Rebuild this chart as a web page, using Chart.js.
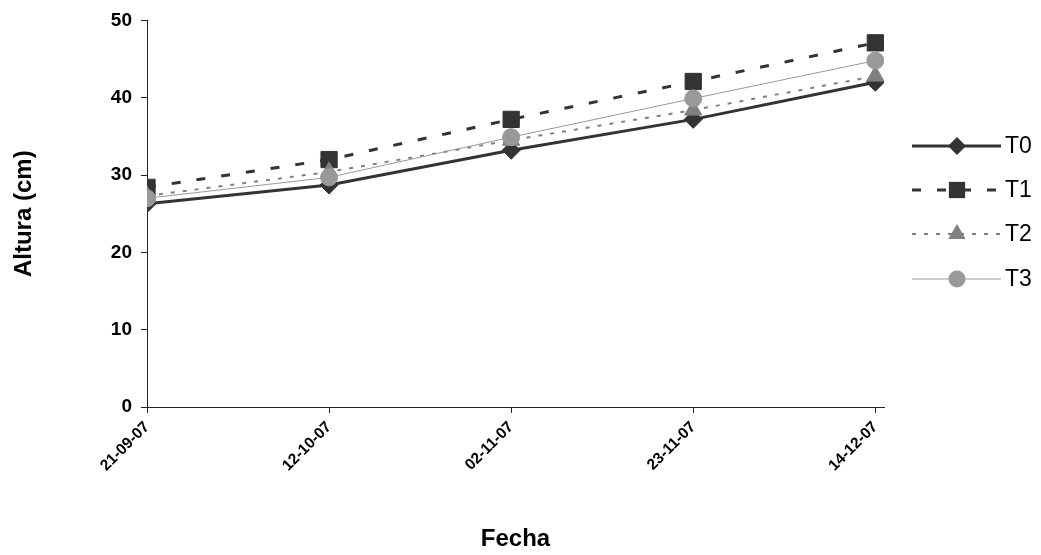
<!DOCTYPE html>
<html>
<head>
<meta charset="utf-8">
<title>Altura por fecha</title>
<script src="https://cdn.jsdelivr.net/npm/chart.js@4.4.0/dist/chart.umd.min.js"></script>
<style>
  html, body { margin: 0; padding: 0; background: #ffffff; }
  #wrap { width: 1041px; height: 555px; }
</style>
</head>
<body>
<div id="wrap"><canvas id="chart" width="1041" height="555"></canvas></div>
<script>
// Data
const fechas = ['21-09-07', '12-10-07', '02-11-07', '23-11-07', '14-12-07'];
const t0 = [26.3, 28.7, 33.2, 37.2, 42.0];
const t1 = [28.4, 32.0, 37.2, 42.1, 47.1];
const t2 = [27.3, 30.4, 34.5, 38.4, 42.8];
const t3 = [27.0, 29.7, 34.9, 39.9, 44.8];
const yTicks = [0, 10, 20, 30, 40, 50];

// Days since first sample (the x axis is a date axis)
function toDays(label) {
  const [d, m, y] = label.split('-').map(Number);
  return Date.UTC(2000 + y, m - 1, d) / 86400000;
}
const day0 = toDays(fechas[0]);
const dias = fechas.map((f) => toDays(f) - day0);

const pts = (vals) => vals.map((v, i) => ({ x: dias[i], y: v }));

const FONT = "'Liberation Sans', Arial, sans-serif";
const AXIS = '#222222';

// Draws a marker shape at (x, y) for the custom legend
function drawMarker(ctx, style, r, x, y, color) {
  ctx.save();
  ctx.fillStyle = color;
  ctx.setLineDash([]);
  ctx.beginPath();
  if (style === 'rectRot') {
    ctx.moveTo(x, y - r); ctx.lineTo(x + r, y); ctx.lineTo(x, y + r); ctx.lineTo(x - r, y);
  } else if (style === 'rect') {
    const s = Math.SQRT1_2 * r;
    ctx.rect(x - s, y - s, 2 * s, 2 * s);
  } else if (style === 'triangle') {
    for (let k = 0; k < 3; k++) {
      const a = k * 2 * Math.PI / 3;
      const px = x + Math.sin(a) * r, py = y - Math.cos(a) * r;
      if (k === 0) ctx.moveTo(px, py); else ctx.lineTo(px, py);
    }
  } else {
    ctx.arc(x, y, r, 0, Math.PI * 2);
  }
  ctx.closePath();
  ctx.fill();
  ctx.restore();
}

const sideLegend = {
  id: 'sideLegend',
  afterDraw(chart) {
    const ctx = chart.ctx;
    const x1 = 912, x2 = 1001, xm = 957;
    const rows = [146, 190, 234, 279];
    chart.data.datasets.forEach((ds, i) => {
      const y = rows[i];
      ctx.save();
      ctx.strokeStyle = ds.borderColor;
      ctx.lineWidth = ds.borderWidth;
      ctx.setLineDash(ds.borderDash || []);
      ctx.beginPath();
      ctx.moveTo(x1, y);
      ctx.lineTo(x2, y);
      ctx.stroke();
      ctx.restore();
      drawMarker(ctx, ds.pointStyle, ds.pointRadius, xm, y, ds.pointBackgroundColor);
      ctx.save();
      ctx.fillStyle = '#000';
      ctx.font = '23px ' + FONT;
      ctx.textBaseline = 'middle';
      ctx.fillText(ds.label, 1005, y + 1);
      ctx.restore();
    });
  }
};

new Chart(document.getElementById('chart'), {
  type: 'line',
  data: {
    datasets: [
      {
        label: 'T0', data: pts(t0), order: 3,
        borderColor: '#333333', borderWidth: 3,
        pointStyle: 'rectRot', pointRadius: 9,
        pointBackgroundColor: '#333333', pointBorderColor: '#333333', pointBorderWidth: 1
      },
      {
        label: 'T1', data: pts(t1), order: 2,
        borderColor: '#333333', borderWidth: 3, borderDash: [9, 16],
        pointStyle: 'rect', pointRadius: 11.5,
        pointBackgroundColor: '#333333', pointBorderColor: '#333333', pointBorderWidth: 1
      },
      {
        label: 'T2', data: pts(t2), order: 1,
        borderColor: '#808080', borderWidth: 2, borderDash: [4, 8],
        pointStyle: 'triangle', pointRadius: 10,
        pointBackgroundColor: '#808080', pointBorderColor: '#808080', pointBorderWidth: 1
      },
      {
        label: 'T3', data: pts(t3), order: 0,
        borderColor: '#999999', borderWidth: 1,
        pointStyle: 'circle', pointRadius: 8.5,
        pointBackgroundColor: '#999999', pointBorderColor: '#999999', pointBorderWidth: 1
      }
    ]
  },
  options: {
    responsive: false,
    animation: false,
    devicePixelRatio: 1,
    layout: { padding: { left: 10, top: 20, right: 157, bottom: 0 } },
    plugins: {
      legend: { display: false },
      tooltip: { enabled: false }
    },
    elements: { line: { tension: 0, fill: false } },
    scales: {
      x: {
        type: 'linear',
        min: 0,
        max: dias[dias.length - 1] + 1,
        afterBuildTicks: (scale) => { scale.ticks = dias.map((v) => ({ value: v })); },
        afterFit: (scale) => { scale.height = 148; },
        grid: { drawOnChartArea: false, drawTicks: true, tickLength: 6, color: AXIS },
        border: { display: true, color: AXIS, width: 1 },
        ticks: {
          minRotation: 45, maxRotation: 45, padding: 5, color: '#000',
          font: { family: FONT, size: 15.5, weight: 'bold' },
          callback: (v, i) => fechas[i]
        },
        title: {
          display: true, text: 'Fecha', color: '#000',
          font: { family: FONT, size: 24, weight: 'bold' },
          padding: { top: 4, bottom: 1 }
        }
      },
      y: {
        min: yTicks[0],
        max: yTicks[yTicks.length - 1],
        afterBuildTicks: (scale) => { scale.ticks = yTicks.map((v) => ({ value: v })); },
        afterFit: (scale) => { scale.width = 137; },
        grid: { drawOnChartArea: false, drawTicks: true, tickLength: 6, color: AXIS },
        border: { display: true, color: AXIS, width: 1 },
        ticks: {
          padding: 9, color: '#000',
          font: { family: FONT, size: 19, weight: 'bold' }
        },
        title: {
          display: true, text: 'Altura (cm)', color: '#000',
          font: { family: FONT, size: 24, weight: 'bold' },
          padding: { top: 0, bottom: 4 }
        }
      }
    }
  },
  plugins: [sideLegend]
});
</script>
</body>
</html>
